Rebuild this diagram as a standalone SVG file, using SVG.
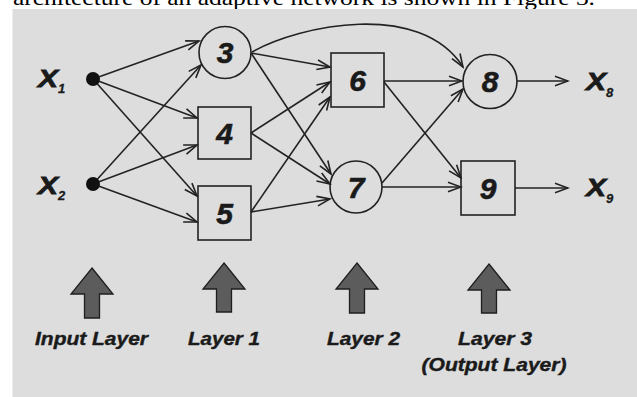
<svg xmlns="http://www.w3.org/2000/svg" width="637" height="397" viewBox="0 0 637 397">
<defs>
<style>
.bg{fill:#dddddd}
.node{fill:none;stroke:#222;stroke-width:1.6}
.num{font-family:"Liberation Sans",Arial,sans-serif;font-weight:bold;font-style:italic;font-size:30px;fill:#1a1a1a;stroke:#1a1a1a;stroke-width:0.6;text-anchor:middle}
.var{font-family:"Liberation Sans",Arial,sans-serif;font-weight:bold;font-style:italic;font-size:23px;fill:#1a1a1a;stroke:#1a1a1a;stroke-width:0.8}
.sub{font-family:"Liberation Sans",Arial,sans-serif;font-weight:bold;font-style:italic;font-size:13px;fill:#1a1a1a;stroke:#1a1a1a;stroke-width:0.3}
.lbl{font-family:"Liberation Sans",Arial,sans-serif;font-weight:bold;font-style:italic;font-size:19px;fill:#1a1a1a;stroke:#1a1a1a;stroke-width:0.4;text-anchor:middle}
.edge{fill:none;stroke:#222;stroke-width:1.6;marker-end:url(#ah)}
.big{fill:#5c5c5c;stroke:#1e1e1e;stroke-width:1.3;stroke-linejoin:miter}
</style>
<marker id="ah" markerUnits="userSpaceOnUse" markerWidth="16" markerHeight="12" refX="14" refY="6" orient="auto" viewBox="0 0 16 12">
<path d="M1,1.2 L14,6 L1,10.8" fill="none" stroke="#222" stroke-width="1.6"/>
</marker>
</defs>
<rect width="637" height="397" fill="#ffffff"/>
<text x="13" y="5" font-family="'Liberation Serif','Times New Roman',serif" font-size="22" fill="#000" textLength="582" lengthAdjust="spacingAndGlyphs">architecture of an adaptive network is shown in Figure 3.</text>
<rect class="bg" x="12.5" y="9" width="625" height="388"/>

<g id="connectors">
<line class="edge" x1="93" y1="79" x2="199" y2="41"/>
<line class="edge" x1="93" y1="79" x2="197" y2="118"/>
<line class="edge" x1="93" y1="79" x2="197" y2="196"/>
<line class="edge" x1="93" y1="184" x2="201" y2="65"/>
<line class="edge" x1="93" y1="184" x2="197" y2="145"/>
<line class="edge" x1="93" y1="184" x2="197" y2="222"/>
<line class="edge" x1="251" y1="53" x2="330" y2="67"/>
<line class="edge" x1="251" y1="53" x2="331" y2="174"/>
<line class="edge" x1="251" y1="133" x2="330" y2="82"/>
<line class="edge" x1="251" y1="133" x2="330" y2="184"/>
<line class="edge" x1="251" y1="212" x2="330" y2="97"/>
<line class="edge" x1="251" y1="212" x2="330" y2="199"/>
<path class="edge" d="M252,52 C300,25 420,0 463,67"/>
<line class="edge" x1="384" y1="81" x2="462" y2="81"/>
<line class="edge" x1="384" y1="82" x2="461" y2="178"/>
<line class="edge" x1="382" y1="183" x2="463" y2="89"/>
<line class="edge" x1="382" y1="187" x2="461" y2="187"/>
<line class="edge" x1="517" y1="81" x2="568" y2="81"/>
<line class="edge" x1="515" y1="188" x2="568" y2="188"/>
</g>

<g id="x1">
<circle cx="93" cy="79" r="7" fill="#111"/>
<text class="var" x="38" y="87" textLength="20" lengthAdjust="spacingAndGlyphs">X</text>
<text class="sub" x="58" y="93">1</text>
</g>
<g id="x2">
<circle cx="93" cy="184" r="7" fill="#111"/>
<text class="var" x="38" y="194" textLength="20" lengthAdjust="spacingAndGlyphs">X</text>
<text class="sub" x="58" y="200">2</text>
</g>
<g id="n3">
<circle class="node" cx="225" cy="52.5" r="26"/>
<text class="num" x="225" y="63">3</text>
</g>
<g id="n4">
<rect class="node" x="198" y="107" width="53" height="52"/>
<text class="num" x="224.5" y="144">4</text>
</g>
<g id="n5">
<rect class="node" x="198" y="186" width="53" height="54"/>
<text class="num" x="224.5" y="224">5</text>
</g>
<g id="n6">
<rect class="node" x="331" y="53" width="53" height="54"/>
<text class="num" x="357.5" y="91">6</text>
</g>
<g id="n7">
<circle class="node" cx="356" cy="187" r="26"/>
<text class="num" x="356" y="198">7</text>
</g>
<g id="n8">
<circle class="node" cx="490" cy="81.5" r="27"/>
<text class="num" x="490" y="92">8</text>
</g>
<g id="n9">
<rect class="node" x="461" y="161" width="54" height="54"/>
<text class="num" x="488" y="199">9</text>
</g>
<g id="x8">
<text class="var" x="586" y="90" textLength="20" lengthAdjust="spacingAndGlyphs">X</text>
<text class="sub" x="606" y="97">8</text>
</g>
<g id="x9">
<text class="var" x="586" y="196" textLength="20" lengthAdjust="spacingAndGlyphs">X</text>
<text class="sub" x="606" y="203">9</text>
</g>

<g id="layers">
<polygon class="big" points="92,268 113,294 99.5,294 99.5,318 84.5,318 84.5,294 71,294"/>
<polygon class="big" points="224,263 245,289 231.5,289 231.5,312 216.5,312 216.5,289 203,289"/>
<polygon class="big" points="357,263 378,289 364.5,289 364.5,313 349.5,313 349.5,289 336,289"/>
<polygon class="big" points="489,264 510,290 496.5,290 496.5,313 481.5,313 481.5,290 468,290"/>
<text class="lbl" x="91.5" y="345" textLength="113" lengthAdjust="spacingAndGlyphs">Input Layer</text>
<text class="lbl" x="224" y="345" textLength="72" lengthAdjust="spacingAndGlyphs">Layer 1</text>
<text class="lbl" x="363.5" y="345" textLength="73" lengthAdjust="spacingAndGlyphs">Layer 2</text>
<text class="lbl" x="495" y="345" textLength="74" lengthAdjust="spacingAndGlyphs">Layer 3</text>
<text class="lbl" x="494" y="371" textLength="145" lengthAdjust="spacingAndGlyphs">(Output Layer)</text>
</g>
</svg>
